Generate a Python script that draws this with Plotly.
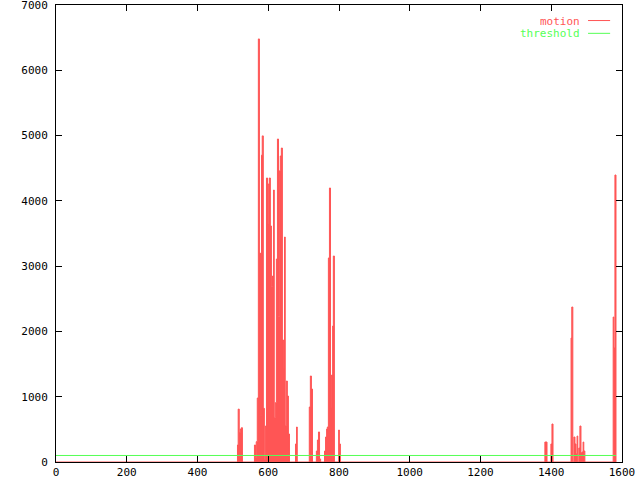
import plotly.graph_objects as go

# ---- data (frame index, motion value); zeros mark gaps between bursts ----
motion_frames = [0,
    513, 515, 518, 521, 524, 527,
    561, 564, 566, 569, 572, 575, 578, 581, 583, 586,
    589, 592, 595, 598, 600, 603, 606, 609, 612, 615,
    617, 620, 623, 626, 629, 632, 634, 637, 640, 643,
    646, 648, 651, 654, 657, 660,
    677, 680, 682,
    716, 719, 722, 725,
    736, 739, 742, 745, 748,
    759, 762, 765, 767, 770, 773, 776, 779, 782, 784, 787,
    799, 801, 804,
    1382, 1385, 1388,
    1399, 1402, 1405,
    1456, 1458, 1461, 1464, 1467, 1470, 1473, 1475, 1478, 1481, 1484, 1487, 1490, 1492, 1495,
    1575, 1577, 1580, 1583]
motion_values = [0,
    260, 810, 450, 505, 525, 0,
    260, 66, 311, 980, 6480, 3200, 705, 4700, 4995, 822,
    31, 551, 4350, 3645, 4258, 4350, 3615, 2685, 2849, 4166,
    679, 909, 3109, 4947, 2226, 4462, 4687, 4809, 1869, 1424,
    3446, 557, 1240, 1011, 429, 0,
    276, 536, 0,
    842, 1317, 1118, 0,
    168, 337, 460, 46, 0,
    168, 383, 505, 536, 3125, 4197, 827, 1332, 2083, 3155, 0,
    490, 276, 0,
    306, 306, 0,
    276, 582, 0,
    1900, 2374, 0, 383, 276, 122, 398, 0, 214, 551, 138, 153, 306, 168, 0,
    2221, 1746, 4396, 0]

threshold_frames = [0, 1583]
threshold_values = [100, 100]

x_ticks = [0, 200, 400, 600, 800, 1000, 1200, 1400, 1600]
y_ticks = [0, 1000, 2000, 3000, 4000, 5000, 6000, 7000]

RED = "#ff5555"
GREEN = "#55ff55"
FONT = dict(family="DejaVu Sans Mono", size=11, color="black")

fig = go.Figure()
fig.add_trace(go.Scatter(
    x=motion_frames, y=motion_values, mode="lines", name="motion",
    line=dict(color=RED, width=1, shape="hv"),
    fill="tozeroy", fillcolor=RED, showlegend=False))
fig.add_trace(go.Scatter(
    x=threshold_frames, y=threshold_values, mode="lines", name="threshold",
    line=dict(color=GREEN, width=1), showlegend=False))

axis_common = dict(
    showline=True, linecolor="black", linewidth=1, mirror="ticks",
    ticks="inside", ticklen=6, tickcolor="black", tickwidth=1,
    showgrid=False, zeroline=False, tickfont=FONT, automargin=False,
    ticklabeloverflow="allow")

fig.update_xaxes(range=[0, 1600], tickvals=x_ticks,
                 ticktext=[str(v) for v in x_ticks], **axis_common)
fig.update_yaxes(range=[0, 7000], tickvals=y_ticks,
                 ticktext=[str(v) for v in y_ticks], ticklabelstandoff=5,
                 **axis_common)

# gnuplot-style legend: right-aligned label with line sample on its right
legend_items = [("motion", RED, 0.966), ("threshold", GREEN, 0.938)]
for label, color, yp in legend_items:
    fig.add_annotation(x=0.927, y=yp, xref="paper", yref="paper", text=label,
                       showarrow=False, xanchor="right", yanchor="middle",
                       height=10, borderpad=0,
                       font=dict(family="DejaVu Sans Mono", size=11, color=color))
    fig.add_shape(type="line", xref="paper", yref="paper",
                  x0=0.940, x1=0.979, y0=yp, y1=yp,
                  line=dict(color=color, width=1))

fig.update_layout(
    width=640, height=480,
    margin=dict(l=56, r=18, t=5, b=18),
    paper_bgcolor="white", plot_bgcolor="white",
    font=FONT, showlegend=False)

fig.write_html("out.html",
               config={"displayModeBar": False},
               post_script="document.body.style.margin='0px';document.body.style.overflow='hidden';")
